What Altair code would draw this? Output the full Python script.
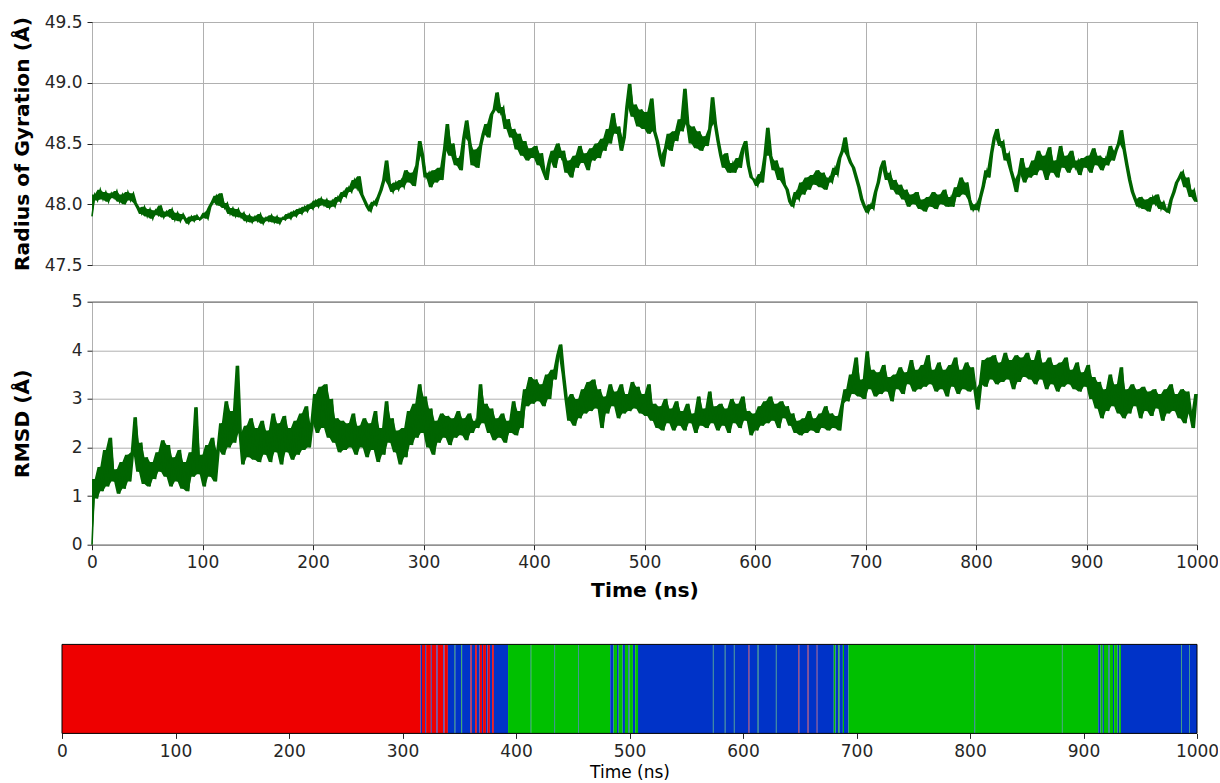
import altair as alt
import pandas as pd

# ---------------- data ----------------
time_ns = [i * 2.5 for i in range(401)]

rog = [
    47.90, 48.08, 48.03, 48.12, 48.04, 48.10, 48.02, 48.09, 48.05, 48.11,
    48.02, 48.08, 48.00, 48.10, 48.03, 48.09, 48.01, 47.97, 47.92, 47.98,
    47.90, 47.96, 47.88, 47.95, 47.91, 47.99, 47.89, 47.94, 47.90, 47.96,
    47.87, 47.93, 47.86, 47.92, 47.88, 47.84, 47.90, 47.86, 47.91, 47.87,
    47.89, 47.93, 47.88, 47.98, 48.02, 48.07, 47.99, 48.09, 47.97, 48.01,
    47.92, 47.97, 47.90, 47.96, 47.89, 47.93, 47.86, 47.91, 47.85, 47.90,
    47.86, 47.92, 47.84, 47.89, 47.86, 47.91, 47.85, 47.90, 47.84, 47.89,
    47.87, 47.92, 47.88, 47.94, 47.90, 47.96, 47.92, 47.98, 47.94, 48.00,
    47.96, 48.03, 47.98, 48.05, 47.99, 48.04, 47.97, 48.03, 47.98, 48.06,
    48.02, 48.10, 48.06, 48.14, 48.10, 48.20, 48.13, 48.23, 48.08, 48.03,
    47.98, 47.94, 48.02, 47.99, 48.06, 48.12, 48.20, 48.36, 48.16, 48.10,
    48.18, 48.12, 48.20, 48.14, 48.28, 48.18, 48.26, 48.15, 48.32, 48.52,
    48.40, 48.22, 48.26, 48.14, 48.28, 48.18, 48.30, 48.20, 48.45, 48.66,
    48.40, 48.50, 48.32, 48.38, 48.28, 48.55, 48.69, 48.52, 48.32, 48.45,
    48.30, 48.48, 48.58, 48.66, 48.55, 48.74, 48.78, 48.92, 48.75, 48.80,
    48.62, 48.70, 48.55, 48.62, 48.45, 48.58, 48.40, 48.52, 48.36, 48.46,
    48.38, 48.48, 48.32, 48.42, 48.26, 48.20, 48.36, 48.44, 48.30, 48.50,
    48.38, 48.44, 48.26, 48.36, 48.22, 48.40, 48.30, 48.48, 48.34, 48.42,
    48.28, 48.46, 48.36, 48.50, 48.38, 48.54, 48.44, 48.62, 48.50, 48.75,
    48.58, 48.64, 48.44, 48.55, 48.80, 48.99, 48.72, 48.82, 48.64, 48.78,
    48.62, 48.76, 48.58, 48.87, 48.60, 48.52, 48.40, 48.31, 48.46, 48.58,
    48.44, 48.60, 48.52, 48.70, 48.60, 48.95, 48.66, 48.50, 48.64, 48.46,
    48.60, 48.44, 48.56, 48.48, 48.62, 48.88, 48.66, 48.52, 48.40, 48.30,
    48.42, 48.26, 48.34, 48.26, 48.38, 48.30, 48.46, 48.52, 48.32, 48.22,
    48.20, 48.15, 48.25, 48.18, 48.40, 48.63, 48.40, 48.28, 48.36, 48.20,
    48.30, 48.16, 48.12, 48.02, 47.98, 48.10, 48.04, 48.18, 48.08, 48.22,
    48.12, 48.24, 48.16, 48.28, 48.14, 48.26, 48.12, 48.22, 48.18, 48.30,
    48.24, 48.38, 48.44, 48.55, 48.40, 48.34, 48.30, 48.22, 48.14, 48.04,
    47.98, 47.93, 48.00, 47.96, 48.10, 48.18, 48.30, 48.36, 48.20, 48.26,
    48.12, 48.20, 48.08, 48.16, 48.04, 48.12, 47.98, 48.08, 48.00, 48.10,
    47.96, 48.04, 47.94, 48.06, 47.98, 48.10, 47.96, 48.08, 48.00, 48.12,
    47.98, 48.06, 47.98, 48.14, 48.06, 48.22, 48.08, 48.18, 48.04, 47.95,
    48.00, 47.95, 48.06, 48.15, 48.28, 48.22, 48.42, 48.55, 48.62, 48.48,
    48.52, 48.36, 48.42, 48.28, 48.20, 48.10, 48.25, 48.38, 48.18, 48.30,
    48.22, 48.36, 48.24, 48.44, 48.28, 48.40, 48.20, 48.47, 48.26, 48.36,
    48.22, 48.48, 48.30, 48.40, 48.26, 48.44, 48.30, 48.36, 48.24, 48.38,
    48.30, 48.40, 48.26, 48.46, 48.32, 48.40, 48.28, 48.38, 48.32, 48.48,
    48.36, 48.44, 48.50, 48.61, 48.45, 48.32, 48.20, 48.10, 48.04, 47.98,
    48.06, 47.96, 48.04, 47.94, 48.06, 48.00, 48.08, 47.96, 48.02, 47.95,
    47.93, 48.04, 48.10, 48.18, 48.22, 48.27, 48.14, 48.22, 48.06, 48.12,
    48.02,
]

rmsd = [
    0.00, 1.35, 0.95, 1.60, 1.10, 1.95, 1.20, 2.20, 1.30, 1.55,
    1.05, 1.70, 1.15, 1.85, 1.30, 1.90, 2.62, 1.50, 2.10, 1.25,
    1.80, 1.20, 1.70, 1.35, 1.90, 1.50, 2.15, 1.40, 2.05, 1.20,
    1.80, 1.30, 1.95, 1.15, 1.70, 1.10, 1.90, 1.40, 2.83, 1.45,
    1.85, 1.20, 2.05, 1.40, 2.20, 1.30, 1.95, 2.50, 1.85, 2.95,
    2.00, 2.75, 2.10, 3.68, 2.30, 1.65, 2.45, 1.80, 2.60, 1.75,
    2.40, 1.70, 2.55, 1.85, 2.35, 1.70, 2.70, 1.90, 2.50, 1.65,
    2.65, 1.90, 2.40, 1.75, 2.55, 1.85, 2.70, 1.95, 2.85, 2.00,
    2.50, 3.10, 2.30, 3.25, 2.40, 3.30, 2.20, 3.00, 2.10, 2.60,
    1.90, 2.55, 1.95, 2.50, 2.00, 2.70, 1.85, 2.45, 2.00, 2.60,
    1.80, 2.50, 1.95, 2.75, 1.70, 2.40, 1.85, 2.95, 2.10, 2.60,
    1.90, 2.35, 1.65, 2.40, 1.80, 2.75, 2.05, 2.90, 2.20, 3.30,
    2.30, 3.05, 2.00, 2.80, 1.85, 2.55, 2.10, 2.70, 2.20, 2.65,
    2.05, 2.60, 2.20, 2.75, 2.25, 2.60, 2.15, 2.70, 2.30, 2.55,
    2.40, 3.30, 2.50, 2.90, 2.30, 2.80, 2.15, 2.60, 2.20, 2.70,
    2.10, 2.55, 2.30, 2.95, 2.25, 2.75, 2.40, 3.20, 2.85, 3.45,
    2.90, 3.40, 2.95, 3.30, 2.85, 3.50, 3.00, 3.60, 3.40, 3.90,
    4.12, 3.50, 3.00, 2.55, 3.10, 2.45, 3.00, 2.60, 3.20, 2.70,
    3.35, 2.75, 3.40, 2.80, 3.20, 2.40, 3.05, 2.70, 3.30, 2.85,
    3.15, 2.60, 3.30, 2.70, 3.10, 2.75, 3.35, 2.80, 3.25, 2.70,
    3.10, 2.65, 3.30, 2.55, 2.90, 2.40, 2.85, 2.35, 3.00, 2.50,
    2.80, 2.35, 2.95, 2.45, 2.75, 2.35, 2.90, 2.50, 2.70, 2.30,
    3.05, 2.45, 2.80, 2.40, 3.15, 2.50, 2.85, 2.35, 2.90, 2.45,
    2.80, 2.30, 3.00, 2.50, 2.90, 2.40, 3.05, 2.55, 2.75, 2.25,
    2.70, 2.35, 2.85, 2.45, 2.95, 2.50, 3.05, 2.55, 2.90, 2.40,
    2.95, 2.60, 2.85, 2.45, 2.70, 2.30, 2.55, 2.25, 2.60, 2.30,
    2.75, 2.35, 2.60, 2.30, 2.70, 2.40, 2.85, 2.35, 2.70, 2.40,
    2.65, 2.35, 2.90, 3.20, 2.95, 3.50, 3.10, 3.85, 3.05, 3.40,
    3.00, 3.98, 3.20, 3.60, 3.05, 3.55, 3.10, 3.70, 3.15, 3.45,
    2.95, 3.50, 3.20, 3.65, 3.10, 3.55, 3.30, 3.80, 3.15, 3.60,
    3.20, 3.70, 3.25, 3.90, 3.30, 3.60, 3.15, 3.75, 3.20, 3.60,
    3.05, 3.70, 3.25, 3.85, 3.10, 3.60, 3.20, 3.75, 3.15, 3.65,
    3.20, 2.78, 3.30, 3.80, 3.25, 3.85, 3.40, 3.90, 3.30, 3.75,
    3.35, 3.95, 3.40, 3.80, 3.20, 3.90, 3.35, 3.85, 3.45, 3.95,
    3.40, 3.80, 3.30, 4.00, 3.40, 3.75, 3.20, 3.85, 3.30, 3.70,
    3.15, 3.75, 3.25, 3.85, 3.30, 3.60, 3.20, 3.75, 3.15, 3.55,
    3.25, 3.70, 3.00, 3.45, 2.80, 3.35, 2.60, 3.20, 2.75, 3.50,
    2.85, 3.30, 2.70, 3.65, 2.60, 3.20, 2.70, 3.30, 2.85, 3.20,
    2.60, 3.25, 2.75, 3.15, 2.65, 3.20, 2.80, 3.10, 2.55, 3.20,
    2.70, 3.30, 2.75, 3.10, 2.60, 3.20, 2.50, 3.15, 2.70, 2.40,
    3.10,
]

x_ticks = [0, 100, 200, 300, 400, 500, 600, 700, 800, 900, 1000]
rog_ticks = [47.5, 48.0, 48.5, 49.0, 49.5]
rmsd_ticks = [0, 1, 2, 3, 4, 5]

# conformational-state strip: segment boundaries (ns) and the state of each segment
state_bounds = [
    0, 316, 317.2, 320, 320.8, 325, 325.8, 330, 331, 336, 337, 340, 346, 346.5,
    352, 352.5, 360, 361, 364, 365.5, 368, 370, 371, 373.5, 375, 377, 379, 380.5,
    393, 413, 413.4, 434, 434.4, 455, 455.4, 483, 486, 489, 490.5, 494, 496, 499,
    500, 503, 505, 507.5, 573.5, 574, 584, 584.5, 592, 592.5, 605, 605.6, 613,
    613.6, 629, 629.5, 649, 649.6, 657, 657.7, 665, 665.5, 680, 681.5, 684, 685,
    688, 689, 693, 804, 804.5, 881, 881.5, 913, 915, 917, 918, 922, 923, 926, 927,
    930, 931.5, 933, 986, 986.5, 993, 993.5, 1000,
]
state_labels = [
    "R", "B", "R", "B", "R", "B", "R", "B", "R", "B", "R", "B", "G",
    "B", "G", "B", "R", "B", "R", "B", "R", "B", "R", "B", "R", "B", "R",
    "B", "G", "B", "G", "B", "G", "B", "G", "B", "G", "B", "G", "B", "G",
    "B", "G", "B", "G", "B", "G", "B", "G", "B", "G", "B", "R", "B",
    "G", "B", "G", "B", "R", "B", "R", "B", "R", "B", "G", "B", "G",
    "B", "G", "B", "G", "B", "G", "B", "G", "B", "G", "B", "G", "B", "G", "B",
    "G", "B", "G", "B", "G", "B", "G", "B",
]
state_names = ["R", "G", "B"]
state_colors = ["#ee0000", "#00c000", "#0033c8"]

frame_start = [0]
frame_end = [1000]

# ---------------- styling ----------------
LINE = "#006400"
GRID = "#b0b0b0"
FONT = "DejaVu Sans"
W = 1105
H = 243
BAR_H = 89
TITLE_FS = 20.3
LABEL_FS = 17

ts_df = pd.DataFrame({"time": time_ns, "rog": rog, "rmsd": rmsd})
seg_df = pd.DataFrame({"start": state_bounds[:-1], "end": state_bounds[1:], "state": state_labels})
frame_df = pd.DataFrame({"start": frame_start, "end": frame_end})

x_scale = alt.Scale(domain=[0, 1000], nice=False, zero=False)


def y_axis(title, values, fmt):
    return alt.Axis(
        values=values, format=fmt, title=title, titleFontWeight="bold",
        titleFontSize=TITLE_FS, titleX=-60, titleY=H / 2, grid=True,
        tickSize=5, labelPadding=5, domain=False,
    )


def trace(field, y_title, y_values, y_fmt, y_domain, x_axis):
    base = alt.Chart(ts_df).transform_window(
        lo=f"min({field})", hi=f"max({field})", frame=[0, 1], sort=[{"field": "time"}]
    )
    band = base.mark_area(color=LINE, opacity=1, interpolate="linear").encode(
        x=alt.X("time:Q", scale=x_scale, axis=x_axis),
        y=alt.Y("lo:Q", scale=alt.Scale(domain=y_domain, nice=False, zero=False),
                axis=y_axis(y_title, y_values, y_fmt)),
        y2="hi:Q",
    )
    line = alt.Chart(ts_df).mark_line(color=LINE, strokeWidth=1.6).encode(
        x=alt.X("time:Q", scale=x_scale),
        y=alt.Y(f"{field}:Q", scale=alt.Scale(domain=y_domain, nice=False, zero=False)),
    )
    return alt.layer(band, line).properties(width=W, height=H)


top = trace(
    "rog", "Radius of Gyration (Å)", rog_ticks, ".1f", [47.5, 49.5],
    alt.Axis(values=x_ticks, labels=False, ticks=False, domain=False, title=None, grid=True),
)

mid = trace(
    "rmsd", "RMSD (Å)", rmsd_ticks, "d", [0, 5],
    alt.Axis(values=x_ticks, format="d", title="Time (ns)", titleFontWeight="bold",
             titleFontSize=TITLE_FS, titlePadding=10, tickSize=5, labelPadding=5,
             labelFlush=False, domain=False, grid=True),
)

bar_scale = alt.Scale(domain=[0, 1000], range=[-30, W], nice=False, zero=False)

strip = alt.Chart(seg_df).mark_rect().encode(
    x=alt.X("start:Q", scale=bar_scale,
            axis=alt.Axis(values=x_ticks, format="d", title="Time (ns)",
                          titleFontWeight="normal", titleFontSize=17, titlePadding=5,
                          tickSize=5, labelPadding=5, labelFlush=False, domain=False,
                          grid=False)),
    x2="end:Q",
    color=alt.Color("state:N", scale=alt.Scale(domain=state_names, range=state_colors),
                    legend=None),
)

frame = alt.Chart(frame_df).mark_rect(fill="transparent", stroke="black", strokeWidth=1).encode(
    x=alt.X("start:Q", scale=bar_scale),
    x2="end:Q",
)

bottom = alt.layer(strip, frame).properties(
    width=W, height=BAR_H,
    view=alt.ViewBackground(strokeWidth=0),
    title=alt.TitleParams(text=" ", fontSize=10, offset=13.8),
)

chart = alt.vconcat(top, mid, bottom, spacing=17.7).properties(
    padding={"left": 11, "top": 12, "right": -9, "bottom": 0},
    background="white",
).configure(font=FONT).configure_view(
    stroke="black", strokeWidth=1,
).configure_axis(
    labelFont=FONT, titleFont=FONT, labelFontSize=LABEL_FS, labelColor="#262626",
    titleColor="#000000", tickColor="#262626", tickWidth=1,
    gridColor=GRID, gridWidth=1, gridOpacity=1,
)

chart.save("out.html", embed_options={"renderer": "svg", "actions": False})
